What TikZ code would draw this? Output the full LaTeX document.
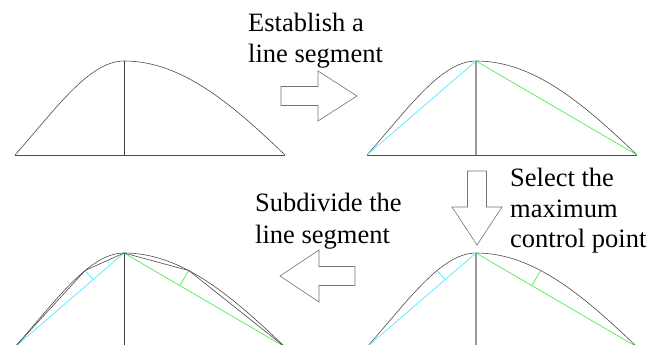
\documentclass[tikz,border=0pt]{standalone}
\usepackage{fontspec}
\setmainfont{Liberation Serif}
\newfontfamily\labelfont{Liberation Serif}
\usetikzlibrary{calc}
\definecolor{mycyan}{RGB}{60,230,255}
\definecolor{mygreen}{RGB}{60,235,60}
\tikzset{
  curveline/.style={draw=black!70, line width=0.6pt},
  thinvert/.style={draw=black!75, line width=0.6pt},
  grayvert/.style={draw=black!40, line width=1.2pt},
  cyanline/.style={draw=mycyan, line width=0.6pt},
  greenline/.style={draw=mygreen, line width=0.6pt},
  blockarrow/.style={draw=black!55, line width=0.6pt, fill=white, line join=miter},
  lbl/.style={font=\labelfont\fontsize{26.5}{31}\selectfont, anchor=base west, inner sep=0pt, text=black}
}
\newcommand{\basecurve}[1]{%
  \coordinate (A#1) at (15,155);
  \coordinate (P#1) at (124,61);
  \coordinate (C#1) at (285,155);
  \coordinate (B#1) at (124,155);
  \draw[curveline] (A#1) to[out=48.4, in=180, out distance=60.2pt, in distance=35pt] coordinate[pos=0.63] (L#1) (P#1)
     to[out=0, in=136.1, out distance=56pt, in distance=78pt] coordinate[pos=0.4] (R#1) (C#1);
  \coordinate (FL#1) at ($(A#1)!(L#1)!(P#1)$);
  \coordinate (FR#1) at ($(P#1)!(R#1)!(C#1)$);
}
\begin{document}
\begin{tikzpicture}[x=1pt, y=-1pt]
\useasboundingbox (0,0) rectangle (661,345);
\clip (0,0) rectangle (661,345);
% panel 1
\begin{scope}
  \basecurve{a}
  \draw[curveline] (Aa) -- (Ca);
  \draw[thinvert] (Pa) -- (Ba);
\end{scope}
% panel 2
\begin{scope}[shift={(352,0)}]
  \basecurve{b}
  \draw[curveline] (Ab) -- (Cb);
  \draw[grayvert] (Pb) -- (Bb);
  \draw[cyanline] (Ab) -- (Pb);
  \draw[greenline] (Pb) -- (Cb);
\end{scope}
% panel 3
\begin{scope}[shift={(0,192)}]
  \basecurve{c}
  \draw[thinvert] (Pc) -- (Bc);
  \draw[cyanline] (Ac) -- (Pc);
  \draw[greenline] (Pc) -- (Cc);
  \draw[cyanline] (Lc) -- (FLc);
  \draw[greenline] (Rc) -- (FRc);
  \draw[curveline] (Ac) -- (Lc) -- (Pc) -- (Rc) -- (Cc);
\end{scope}
% panel 4
\begin{scope}[shift={(352,192)}]
  \basecurve{d}
  \draw[grayvert] (Pd) -- (Bd);
  \draw[cyanline] (Ad) -- (Pd);
  \draw[greenline] (Pd) -- (Cd);
  \draw[cyanline] (Ld) -- (FLd);
  \draw[greenline] (Rd) -- (FRd);
\end{scope}
% block arrows
\draw[blockarrow] (281,86.5) -- (318,86.5) -- (318,71) -- (357,96) -- (318,121) -- (318,105.5) -- (281,105.5) -- cycle;
\draw[blockarrow] (467.5,171) -- (486.5,171) -- (486.5,207) -- (502,207) -- (477,245) -- (452,207) -- (467.5,207) -- cycle;
\draw[blockarrow] (355,266.5) -- (319,266.5) -- (319,250) -- (280,276) -- (319,302) -- (319,285.5) -- (355,285.5) -- cycle;
% labels
\node[lbl] (t1a) at (248,31.5) {Establish a};
\node[lbl] (t1b) at (248,62.5) {line segment};
\node[lbl] (t2a) at (510,186) {Select the};
\node[lbl] (t2b) at (510,217) {maximum};
\node[lbl] (t2c) at (510,247.5) {control point};
\node[lbl] (t3a) at (255,211.5) {Subdivide the};
\node[lbl] (t3b) at (255,243) {line segment};
\end{tikzpicture}
\end{document}
